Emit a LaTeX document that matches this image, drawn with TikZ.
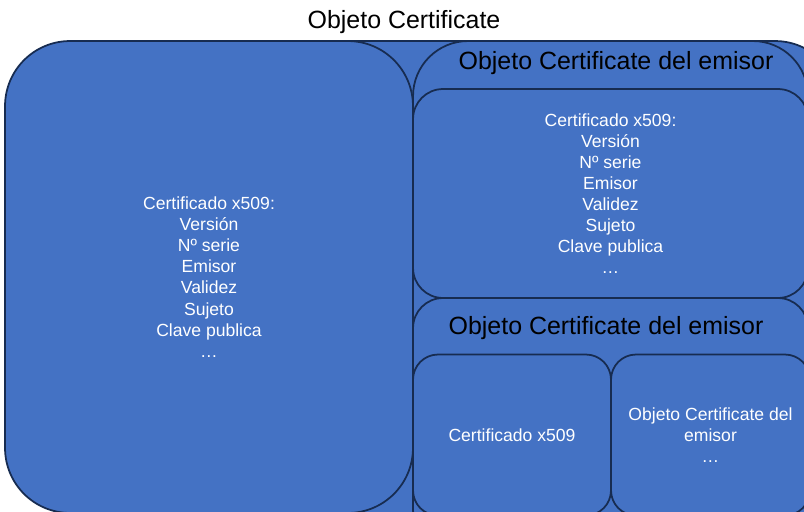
\documentclass[tikz,border=0pt]{standalone}
\usepackage{fontspec}
\setmainfont{Liberation Sans}
\definecolor{certblue}{HTML}{4472C4}
\definecolor{certedge}{HTML}{172C51}

\begin{document}
\begin{tikzpicture}[
  x=0.02cm, y=-0.02cm,
  box/.style={rectangle, draw=certedge, fill=certblue, line width=1pt, inner sep=0pt, outer sep=0pt, text=white, align=center, font=\fontsize{10}{12}\selectfont},
  heading/.style={inner sep=0pt, font=\fontsize{14.2}{17}\selectfont}
]
\useasboundingbox (0,0) rectangle (804,511);
\clip (0,0) rectangle (804,511);

% Outer object
\node[heading] (title) at (404,22) {Objeto Certificate};
\node[box, minimum width=11.8cm, minimum height=9.98cm, rounded corners=1.3cm] (outer) at (545,290.5) {};

% Left certificate
\node[box, minimum width=8.16cm, minimum height=9.44cm, rounded corners=1.3cm] (cert) at (209,277) {Certificado x509:\\Versión\\Nº serie\\Emisor\\Validez\\Sujeto\\Clave publica\\…};

% Issuer object
\node[box, minimum width=7.9cm, minimum height=9.98cm, rounded corners=1.1cm] (issuer) at (610.5,290.5) {};
\node[heading] (issuerlabel) at (616,63) {Objeto Certificate del emisor};
\node[box, minimum width=7.9cm, minimum height=4.18cm, rounded corners=0.6cm] (issuercert) at (610.5,193.5) {Certificado x509:\\Versión\\Nº serie\\Emisor\\Validez\\Sujeto\\Clave publica\\…};

% Issuer of the issuer
\node[box, minimum width=7.9cm, minimum height=4.84cm, rounded corners=0.6cm] (nextissuer) at (610.5,419) {};
\node[heading] (nextlabel) at (606,328) {Objeto Certificate del emisor};
\node[box, minimum width=3.96cm, minimum height=3.22cm, rounded corners=0.5cm] (nextcert) at (512,435) {Certificado x509};
\node[box, minimum width=3.98cm, minimum height=3.22cm, rounded corners=0.5cm] (chain) at (710.5,435) {Objeto Certificate del\\emisor\\…};

\end{tikzpicture}
\end{document}
